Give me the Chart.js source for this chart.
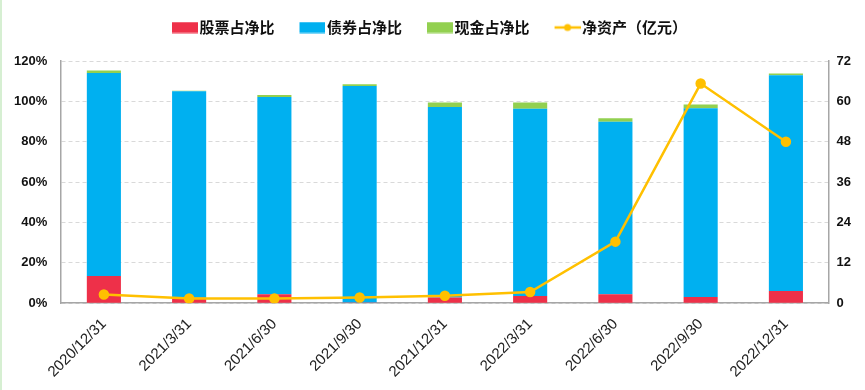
<!DOCTYPE html>
<html>
<head>
<meta charset="utf-8">
<script src="https://cdn.jsdelivr.net/npm/chart.js@4"></script>
<style>
  html, body { margin: 0; padding: 0; background: #fff; }
  #wrap { width: 865px; height: 390px; box-sizing: border-box; border-left: 2px solid #d6efd2; }
</style>
</head>
<body>
<div id="wrap"><canvas id="fundChart" width="863" height="390"></canvas></div>
<script>
const dates = ['2020/12/31', '2021/3/31', '2021/6/30', '2021/9/30', '2021/12/31',
  '2022/3/31', '2022/6/30', '2022/9/30', '2022/12/31'];
const stockPct = [13.5, 2.7, 4.4, 0.3, 2.8, 3.6, 4.4, 3.1, 6.1];
const bondPct = [100.5, 102.3, 97.8, 107.3, 94.4, 92.7, 85.5, 93.5, 106.9];
const cashPct = [1.3, 0.3, 0.9, 0.9, 2.2, 3.1, 1.7, 1.9, 0.8];
const netAssets = [2.6, 1.4, 1.4, 1.7, 2.2, 3.3, 18.3, 65.3, 48.0];
const leftTicks = [0, 20, 40, 60, 80, 100, 120];
const rightTicks = [0, 12, 24, 36, 48, 60, 72];

const fontFamily = "'Liberation Sans', 'Noto Sans CJK SC', sans-serif";
const cjkFont = "'Noto Sans CJK SC', sans-serif";

// legend markers, drawn a bit to the right so the text sits close to them
function legendBox(color) {
  const c = document.createElement('canvas');
  c.width = 32; c.height = 12;
  const g = c.getContext('2d');
  g.fillStyle = color;
  g.fillRect(6, 0.5, 26, 11);
  return c;
}
function legendLine(color) {
  const c = document.createElement('canvas');
  c.width = 32; c.height = 12;
  const g = c.getContext('2d');
  g.strokeStyle = color;
  g.lineWidth = 2.5;
  g.beginPath(); g.moveTo(6, 6); g.lineTo(32, 6); g.stroke();
  g.fillStyle = color;
  g.beginPath(); g.arc(19, 6, 3.5, 0, Math.PI * 2); g.fill();
  return c;
}

// extra room under the legend
const legendGap = {
  id: 'legendGap',
  afterInit(chart) {
    const fit = chart.legend.fit;
    chart.legend.fit = function () { fit.call(this); this.height += 16; };
  }
};

const ctx = document.getElementById('fundChart').getContext('2d');
new Chart(ctx, {
  type: 'bar',
  data: {
    labels: dates,
    datasets: [
      { label: '股票占净比', data: stockPct, backgroundColor: '#EE3049', yAxisID: 'y', stack: 'pct', order: 1 },
      { label: '债券占净比', data: bondPct, backgroundColor: '#00B0F0', yAxisID: 'y', stack: 'pct', order: 1 },
      { label: '现金占净比', data: cashPct, backgroundColor: '#92D050', yAxisID: 'y', stack: 'pct', order: 1 },
      {
        type: 'line', label: '净资产（亿元）', data: netAssets, yAxisID: 'y1', order: 0,
        borderColor: '#FFC000', backgroundColor: '#FFC000', borderWidth: 2.5,
        pointRadius: 4, pointHoverRadius: 4, tension: 0
      }
    ]
  },
  plugins: [legendGap],
  options: {
    responsive: false,
    animation: false,
    layout: { padding: { top: -5, right: 6, left: -2, bottom: 5 } },
    datasets: { bar: { barPercentage: 0.4, categoryPercentage: 1 } },
    plugins: {
      tooltip: { enabled: false },
      legend: {
        position: 'top',
        labels: {
          usePointStyle: true,
          pointStyleWidth: 20,
          boxHeight: 12,
          padding: 25,
          color: '#111',
          font: { family: cjkFont, size: 15, weight: 'bold' },
          generateLabels(chart) {
            const items = Chart.defaults.plugins.legend.labels.generateLabels(chart);
            items.forEach(it => {
              const ds = chart.data.datasets[it.datasetIndex];
              it.pointStyle = ds.type === 'line' ? legendLine(ds.borderColor) : legendBox(ds.backgroundColor);
              it.lineWidth = 0;
            });
            return items.sort((a, b) => a.datasetIndex - b.datasetIndex);
          }
        }
      }
    },
    scales: {
      x: {
        stacked: true,
        grid: { display: false },
        border: { color: '#a6a6a6', width: 1.5 },
        ticks: {
          color: '#222', minRotation: 45, maxRotation: 45, padding: 4,
          font: { family: fontFamily, size: 15 }
        }
      },
      y: {
        stacked: true,
        min: leftTicks[0], max: leftTicks[leftTicks.length - 1],
        afterBuildTicks: axis => { axis.ticks = leftTicks.map(v => ({ value: v })); },
        grid: { color: '#d9d9d9', drawTicks: false },
        border: { color: '#a6a6a6', width: 1.5, dash: [4, 3] },
        ticks: {
          color: '#111', padding: 14,
          font: { family: fontFamily, size: 13, weight: 'bold' },
          callback: v => v + '%'
        }
      },
      y1: {
        position: 'right',
        min: rightTicks[0], max: rightTicks[rightTicks.length - 1],
        afterBuildTicks: axis => { axis.ticks = rightTicks.map(v => ({ value: v })); },
        grid: { display: false, drawTicks: false },
        border: { color: '#a6a6a6', width: 1.5 },
        ticks: {
          color: '#111', padding: 8,
          font: { family: fontFamily, size: 13, weight: 'bold' }
        }
      }
    }
  }
});
</script>
</body>
</html>
